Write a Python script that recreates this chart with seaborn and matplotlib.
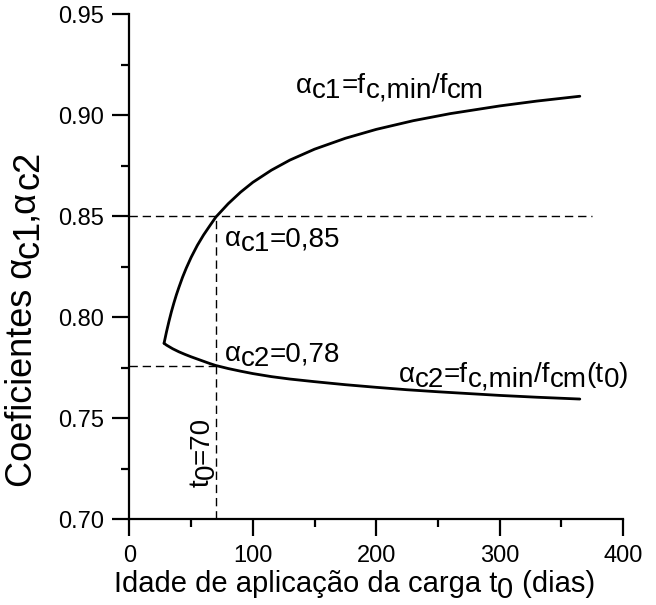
"""
Coeficientes alpha_c1 e alpha_c2 em funcao da idade de aplicacao da carga
"""
import matplotlib
matplotlib.use('Agg')
import matplotlib.pyplot as plt
import matplotlib.transforms as mtransforms
import seaborn as sns
import pandas as pd
from matplotlib.ticker import MultipleLocator, FormatStrFormatter

# valores (estimados)
t_c1 = [28, 30, 32, 34, 36, 38, 40, 43, 46, 50, 55, 60, 65, 70, 80, 90, 100,
        115, 130, 150, 175, 200, 230, 260, 300, 330, 365]
alpha_c1 = [0.7870, 0.7927, 0.7979, 0.8027, 0.8070, 0.8110, 0.8146, 0.8197,
            0.8242, 0.8296, 0.8355, 0.8406, 0.8451, 0.8495, 0.8561, 0.8618,
            0.8667, 0.8727, 0.8777, 0.8831, 0.8885, 0.8929, 0.8972, 0.9007,
            0.9045, 0.9069, 0.9093]
t_c2 = [28, 30, 35, 40, 45, 50, 55, 60, 65, 70, 80, 90, 100, 115, 130, 150, 175,
        200, 225, 250, 275, 300, 330, 365]
alpha_c2 = [0.7870, 0.7861, 0.7843, 0.7828, 0.7815, 0.7803, 0.7792, 0.7781,
            0.7770, 0.7760, 0.7745, 0.7732, 0.7720, 0.7705, 0.7693, 0.7680,
            0.7665, 0.7652, 0.7640, 0.7630, 0.7621, 0.7612, 0.7603, 0.7594]

t0 = 70
ac1_ref = 0.85
ac2_ref = 0.776
x_fim_linha = 375

sns.set_style('ticks')
plt.rcParams['font.family'] = ['Liberation Sans', 'DejaVu Sans']
plt.rcParams['text.color'] = 'black'
plt.rcParams['axes.edgecolor'] = 'black'
plt.rcParams['xtick.color'] = 'black'
plt.rcParams['ytick.color'] = 'black'

df1 = pd.DataFrame({'t': t_c1, 'alpha': alpha_c1})
df2 = pd.DataFrame({'t': t_c2, 'alpha': alpha_c2})

fig = plt.figure(figsize=(6.56, 6.05), dpi=100)
ax = fig.add_axes([0.1974, 0.1421, 0.7523, 0.8347])

sns.lineplot(data=df1, x='t', y='alpha', color='black', linewidth=2, ax=ax)
sns.lineplot(data=df2, x='t', y='alpha', color='black', linewidth=2, ax=ax)

# linhas de referencia tracejadas
tracejado = dict(color='black', lw=1, dashes=(6, 3.5))
ax.plot([0, x_fim_linha], [ac1_ref, ac1_ref], **tracejado)
ax.plot([t0, t0], [0.70, ac1_ref], **tracejado)
ax.plot([0, t0], [ac2_ref, ac2_ref], **tracejado)

ax.set_xlim(0, 400)
ax.set_ylim(0.70, 0.95)
ax.xaxis.set_major_locator(MultipleLocator(100))
ax.xaxis.set_minor_locator(MultipleLocator(50))
ax.yaxis.set_major_locator(MultipleLocator(0.05))
ax.yaxis.set_minor_locator(MultipleLocator(0.025))
ax.yaxis.set_major_formatter(FormatStrFormatter('%.2f'))

for s in ['top', 'right']:
    ax.spines[s].set_visible(False)
for s in ['left', 'bottom']:
    ax.spines[s].set_linewidth(1.6)
ax.tick_params(which='major', length=12, width=1.6, labelsize=17, direction='out')
ax.tick_params(axis='x', which='major', pad=7)
ax.tick_params(axis='y', which='major', pad=6)
ax.tick_params(which='minor', length=6, width=1.6, direction='out')
ax.set_xlabel('')
ax.set_ylabel('')

renderer = fig.canvas.get_renderer()


def rotulo(x, y, partes, transform, size=20, rot=0):
    """Escreve texto por partes; subscritos ficam mais baixos (dy em pixels)"""
    avanco = 0.0
    for texto, dy in partes:
        if rot == 0:
            ox, oy = avanco, dy
        else:
            ox, oy = -dy, avanco
        tr = mtransforms.offset_copy(transform, fig=fig, x=ox, y=oy, units='dots')
        t = fig.text(x, y, texto, transform=tr, fontsize=size, rotation=rot,
                     rotation_mode='anchor', ha='left', va='baseline')
        bb = t.get_window_extent(renderer=renderer)
        avanco += bb.height if rot else bb.width


sub = -5

# rotulos dos eixos
rotulo(114 / 656, 13 / 605,
       [('Idade de aplicação da carga t', 0), ('0', -6), (' (dias)', 0)],
       fig.transFigure, size=21)
rotulo(32 / 656, 1 - 487 / 605,
       [('Coeficientes α', 0), ('c1', -6), (',α', 0), ('c2', -6)],
       fig.transFigure, size=26, rot=90)

# anotacoes das curvas
rotulo(135, 0.911, [('α', 0), ('c1', sub), ('=f', 0), ('c,min', sub),
                    ('/f', 0), ('cm', sub)], ax.transData)
rotulo(218, 0.768, [('α', 0), ('c2', sub), ('=f', 0), ('c,min', sub),
                    ('/f', 0), ('cm', sub), ('(t', 0), ('0', sub), (')', 0)],
       ax.transData)
rotulo(77, 0.835, [('α', 0), ('c1', sub), ('=0,85', 0)], ax.transData)
rotulo(77, 0.778, [('α', 0), ('c2', sub), ('=0,78', 0)], ax.transData)
rotulo(64, 0.716, [('t', 0), ('0', sub), ('=70', 0)], ax.transData, rot=90)

fig.savefig('out.png', dpi=100)
